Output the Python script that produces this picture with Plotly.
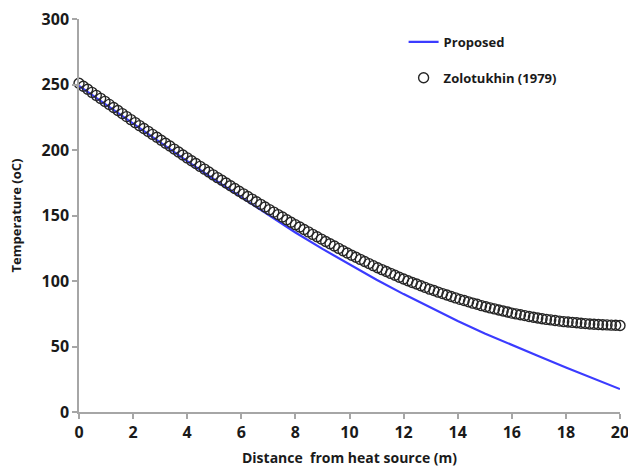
import plotly.graph_objects as go

# Proposed model (line)
prop_x = [0, 1, 2, 3, 4, 5, 6, 7, 8, 9, 10, 11, 12, 13, 14, 15, 16, 17, 18, 19, 20]
prop_y = [249, 234.5, 220, 205.7, 191.5, 177.5, 163.8, 150.3, 137, 124.5, 112.5,
          101, 90, 79.5, 69.5, 60, 51, 42.5, 34, 25.8, 17.5]

# Zolotukhin (1979) (markers)
zol_x = [0.00, 0.16, 0.32, 0.48, 0.64, 0.80, 0.96, 1.12, 1.28, 1.44, 1.60, 1.76, 1.92,
         2.08, 2.24, 2.40, 2.56, 2.72, 2.88, 3.04, 3.20, 3.36, 3.52, 3.68, 3.84, 4.00,
         4.16, 4.32, 4.48, 4.64, 4.80, 4.96, 5.12, 5.28, 5.44, 5.60, 5.76, 5.92, 6.08,
         6.24, 6.40, 6.56, 6.72, 6.88, 7.04, 7.20, 7.36, 7.52, 7.68, 7.84, 8.00, 8.16,
         8.32, 8.48, 8.64, 8.80, 8.96, 9.12, 9.28, 9.44, 9.60, 9.76, 9.92, 10.08, 10.24,
         10.40, 10.56, 10.72, 10.88, 11.04, 11.20, 11.36, 11.52, 11.68, 11.84, 12.00,
         12.16, 12.32, 12.48, 12.64, 12.80, 12.96, 13.12, 13.28, 13.44, 13.60, 13.76,
         13.92, 14.08, 14.24, 14.40, 14.56, 14.72, 14.88, 15.04, 15.20, 15.36, 15.52,
         15.68, 15.84, 16.00, 16.16, 16.32, 16.48, 16.64, 16.80, 16.96, 17.12, 17.28,
         17.44, 17.60, 17.76, 17.92, 18.08, 18.24, 18.40, 18.56, 18.72, 18.88, 19.04,
         19.20, 19.36, 19.52, 19.68, 19.84, 20.00]
zol_y = [251.0, 248.7, 246.4, 244.0, 241.7, 239.4, 237.1,
         234.8, 232.4, 230.1, 227.8, 225.5, 223.2,
         220.9, 218.6, 216.4, 214.2, 211.9, 209.7,
         207.4, 205.2, 203.0, 200.7, 198.5, 196.2, 194.0,
         191.8, 189.7, 187.5, 185.4, 183.2, 181.0,
         178.9, 176.9, 174.8, 172.7, 170.6, 168.5,
         166.5, 164.5, 162.5, 160.5, 158.5, 156.5,
         154.5, 152.6, 150.7, 148.8, 146.8, 144.9, 143.0,
         141.2, 139.3, 137.5, 135.6, 133.8, 132.0,
         130.2, 128.4, 126.7, 124.9, 123.1, 121.4,
         119.7, 118.1, 116.5, 114.9, 113.3, 111.7,
         110.1, 108.7, 107.3, 105.8, 104.4, 102.9, 101.5,
         100.2, 98.9, 97.7, 96.4, 95.1, 93.8,
         92.7, 91.5, 90.4, 89.3, 88.2, 87.1,
         86.0, 85.1, 84.1, 83.1, 82.2, 81.2,
         80.3, 79.5, 78.7, 77.9, 77.1, 76.3, 75.5,
         74.9, 74.2, 73.6, 72.9, 72.3, 71.7,
         71.2, 70.7, 70.3, 69.9, 69.4, 69.0,
         68.7, 68.4, 68.1, 67.8, 67.5, 67.2,
         67.0, 66.8, 66.6, 66.5, 66.3, 66.2, 66.0]

x_ticks = [0, 2, 4, 6, 8, 10, 12, 14, 16, 18, 20]
y_ticks = [0, 50, 100, 150, 200, 250, 300]

FONT = "Open Sans"
TXT = "#1a1a1a"
AXC = "#a6a6a6"

fig = go.Figure()
fig.add_trace(go.Scatter(
    x=prop_x, y=prop_y, mode="lines", name="Proposed",
    line=dict(color="#3b3bff", width=2.2), legendgroup="a",
))
fig.add_trace(go.Scatter(
    x=zol_x, y=zol_y, mode="markers", name="Zolotukhin (1979)",
    marker=dict(symbol="circle-open", size=10, color="#262626",
                line=dict(width=1.4, color="#262626")),
    legendgroup="b", cliponaxis=False,
))

fig.update_layout(
    width=628, height=467,
    margin=dict(l=79, r=8, t=19, b=55),
    paper_bgcolor="white", plot_bgcolor="white",
    font=dict(family=FONT, size=14, color=TXT),
    showlegend=True,
    legend=dict(
        x=0.6, y=0.98, xanchor="left", yanchor="top",
        bgcolor="rgba(0,0,0,0)", tracegroupgap=16,
        font=dict(family=FONT, size=13, color=TXT, weight="bold"),
        itemwidth=30,
    ),
)
fig.update_xaxes(
    range=[0, 20], tickvals=x_ticks, ticktext=[str(v) for v in x_ticks],
    showgrid=False, zeroline=False, showline=True, linecolor=AXC, linewidth=1.5,
    ticks="outside", ticklen=5, tickcolor=AXC, tickwidth=1.5,
    tickfont=dict(family=FONT, size=16, color=TXT, weight="bold"),
    ticklabeloverflow="allow", automargin=False,
    title=dict(text="Distance  from heat source (m)", standoff=11,
               font=dict(family=FONT, size=14, color=TXT, weight="bold")),
)
fig.update_yaxes(
    range=[0, 300], tickvals=y_ticks, ticktext=[str(v) for v in y_ticks],
    ticksuffix=" ",
    showgrid=False, zeroline=False, showline=True, linecolor=AXC, linewidth=1.5,
    ticks="outside", ticklen=5, tickcolor=AXC, tickwidth=1.5,
    tickfont=dict(family=FONT, size=16, color=TXT, weight="bold"),
    ticklabeloverflow="allow", automargin=False,
    title=dict(text="Temperature (oC)", standoff=17,
               font=dict(family=FONT, size=13, color=TXT, weight="bold")),
)

# Remove the default page margin so the figure fills the window exactly.
fig.write_html(
    "out.html",
    config={"displayModeBar": False},
    post_script="document.body.style.margin='0';document.body.style.overflow='hidden';",
)
